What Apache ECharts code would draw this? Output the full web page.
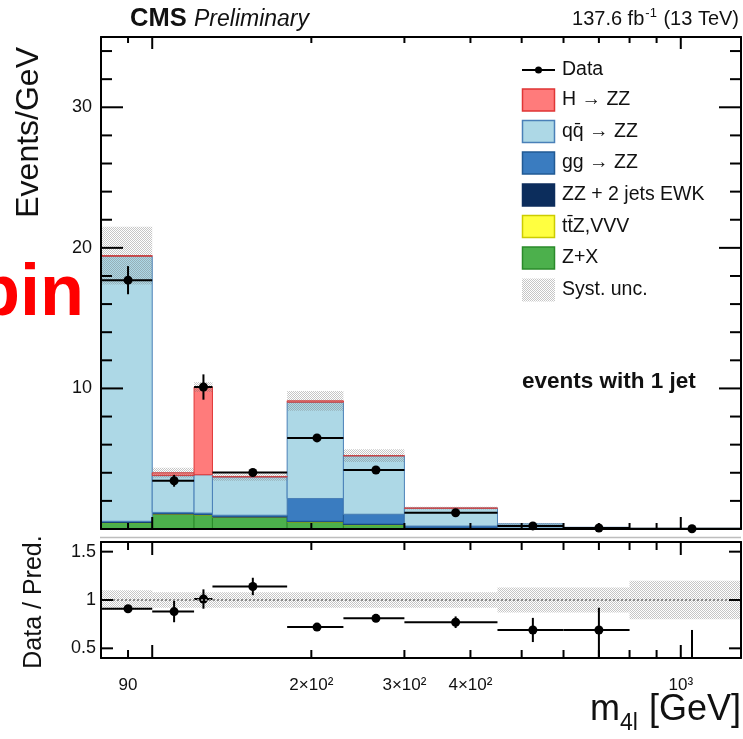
<!DOCTYPE html>
<html><head><meta charset="utf-8">
<script src="https://cdn.jsdelivr.net/npm/echarts@6/dist/echarts.min.js"></script>
<style>html,body{margin:0;padding:0;background:#fff;}#c{width:743px;height:739px;}</style>
</head><body><div id="c"></div>
<script>
// ---------- data ----------
const binEdges   = [80, 100, 120, 130, 180, 230, 300, 450, 600, 800, 1300];
const zxVals     = [0.45, 1.05, 1.00, 0.83, 0.50, 0.30, 0.05, 0.010, 0.005, 0.002];
const ttzVals    = [0.02, 0.02, 0.02, 0.02, 0.02, 0.02, 0.01, 0.005, 0.002, 0.001];
const ewkVals    = [0.03, 0.03, 0.03, 0.03, 0.03, 0.03, 0.02, 0.010, 0.005, 0.002];
const ggVals     = [0.05, 0.08, 0.08, 0.10, 1.62, 0.70, 0.13, 0.040, 0.020, 0.010];
const qqVals     = [18.85, 2.62, 2.73, 2.72, 6.85, 4.15, 1.27, 0.30, 0.09, 0.03];
const hzzVals    = [0.05, 0.20, 6.24, 0.04, 0.10, 0.02, 0.01, 0, 0, 0];
const systVals   = [2.05, 0.35, 0.35, 0.30, 0.70, 0.45, 0.10, 0.04, 0.02, 0.01];
const dataVals   = [17.7, 3.43, 10.1, 4.02, 6.48, 4.20, 1.16, 0.22, 0.07, 0.02];
const dataErr    = [1.0, 0.42, 0.90, 0.22, 0.20, 0.15, 0.10, 0.05, 0.03, 0.02];
const ratioVals  = [0.91, 0.88, 1.01, 1.14, 0.72, 0.81, 0.77, 0.69, 0.69, 0.30];
const ratioErrUp = [0.03, 0.11, 0.10, 0.09, 0.02, 0.025, 0.06, 0.125, 0.23, 0.39];
const ratioErrDn = [0.03, 0.11, 0.10, 0.09, 0.02, 0.025, 0.06, 0.125, 0.35, 0.30];
const ratioBand  = [0.10, 0.08, 0.08, 0.08, 0.08, 0.08, 0.08, 0.13, 0.13, 0.20];
const xTickVals  = [90, 100, 200, 300, 400, 500, 600, 700, 800, 900, 1000];
const xLabelVals = [90, 200, 300, 400, 1000];
const xLabelTexts= ['90', '2×10²', '3×10²', '4×10²', '10³'];
const yTickMajor = [10, 20, 30];
const yTickMinor = [2,4,6,8,12,14,16,18,22,24,26,28,32,34];
const rTickVals  = [0.5, 1, 1.5];
const legendNames= ['Data', 'H → ZZ', 'qq̄ → ZZ', 'gg → ZZ', 'ZZ + 2 jets EWK', 'tt̄Z,VVV', 'Z+X', 'Syst. unc.'];

// ---------- styles ----------
const FF = 'Liberation Sans';
const X_MIN = 80, X_MAX = 1300, Y_MAX = 35, R_MIN = 0.4, R_MAX = 1.6;
const comps = [
  {name:'Z+X',    vals: zxVals,  fill:'#4cb04c', stroke:'#2a8a2a'},
  {name:'ttZ',    vals: ttzVals, fill:'#ffff40', stroke:'#cccc00'},
  {name:'EWK',    vals: ewkVals, fill:'#0c2d5c', stroke:'#0c2d5c'},
  {name:'gg',     vals: ggVals,  fill:'#3a7cc0', stroke:'#215a94'},
  {name:'qq',     vals: qqVals,  fill:'#add8e6', stroke:'#4a80b8'},
  {name:'H',      vals: hzzVals, fill:'#ff7b7b', stroke:'#e03535'}
];
// hatch pattern
const pc = document.createElement('canvas'); pc.width = 4; pc.height = 4;
const pctx = pc.getContext('2d'); pctx.fillStyle = 'rgba(120,120,120,0.42)';
[[0,0],[2,0],[1,1],[3,1],[0,2],[2,2],[1,3],[3,3]].forEach(p => pctx.fillRect(p[0], p[1], 1, 1));
const hatch = {image: pc, repeat: 'repeat'};

const mctx = document.createElement('canvas').getContext('2d');
function tw(str, font){ mctx.font = font; return mctx.measureText(str).width; }
function txt(x, base, str, size, opts){
  opts = opts || {};
  return {type:'text', x:x, y: base - 0.35*size, z:100, silent:true,
    style:{text:str, fontFamily:FF, fontSize:size, fontWeight:opts.bold?'bold':'normal',
      fontStyle:opts.italic?'italic':'normal', fill:opts.color||'#111',
      textAlign:opts.align||'left', textVerticalAlign:'middle'}};
}

// ---------- stacked data tables ----------
const nb = binEdges.length - 1;
const base = new Array(nb).fill(0);
const stackSeries = comps.map(c => {
  const d = [];
  for (let i = 0; i < nb; i++) { d.push([binEdges[i], binEdges[i+1], base[i], base[i] + c.vals[i]]); base[i] += c.vals[i]; }
  return {type:'custom', name:c.name, xAxisIndex:0, yAxisIndex:0, z:2, clip:true,
    encode:{x:[0,1], y:[2,3]}, data:d,
    renderItem:(p, api) => {
      if (api.value(3) - api.value(2) <= 0) return null;
      const a = api.coord([api.value(0), api.value(2)]), b = api.coord([api.value(1), api.value(3)]);
      return {type:'rect', shape:{x:a[0], y:b[1], width:b[0]-a[0], height:a[1]-b[1]},
        style:{fill:c.fill, stroke:c.stroke, lineWidth:1}};
    }};
});
const totals = base.slice();

const bandTop = totals.map((t, i) => [binEdges[i], binEdges[i+1], Math.max(t - systVals[i], 0), t + systVals[i]]);
const bandRatio = ratioBand.map((e, i) => [binEdges[i], binEdges[i+1], 1 - e, 1 + e]);
function bandRender(p, api){
  const a = api.coord([api.value(0), api.value(2)]), b = api.coord([api.value(1), api.value(3)]);
  return {type:'rect', shape:{x:a[0], y:b[1], width:b[0]-a[0], height:a[1]-b[1]}, style:{fill:hatch}};
}
const dataPts = dataVals.map((v, i) => [(binEdges[i] + binEdges[i+1]) / 2, v, v + dataErr[i], Math.max(v - dataErr[i], 0), binEdges[i], binEdges[i+1]]);
const ratioPts = ratioVals.map((v, i) => [(binEdges[i] + binEdges[i+1]) / 2, v, v + ratioErrUp[i], v - ratioErrDn[i], binEdges[i], binEdges[i+1]]);
function ptRender(p, api){
  const xc = api.value(0), v = api.value(1);
  const c = api.coord([xc, v]), l = api.coord([api.value(4), v]), r = api.coord([api.value(5), v]);
  const u = api.coord([xc, api.value(2)]), d = api.coord([xc, api.value(3)]);
  const st = {stroke:'#000', lineWidth:2};
  return {type:'group', children:[
    {type:'line', shape:{x1:l[0], y1:c[1], x2:r[0], y2:c[1]}, style:st},
    {type:'line', shape:{x1:c[0], y1:u[1], x2:c[0], y2:d[1]}, style:st},
    {type:'circle', shape:{cx:c[0], cy:c[1], r:4.5}, style:{fill:'#000'}}
  ]};
}
function xTickSeries(xi, yi, yLo, yHi, majL, minL){
  return {type:'custom', xAxisIndex:xi, yAxisIndex:yi, z:6, clip:false, silent:true,
    data: xTickVals.map(v => [v, yLo]),
    renderItem:(p, api) => {
      const v = api.value(0);
      const L = Math.abs(Math.log10(v) - Math.round(Math.log10(v))) < 1e-9 ? majL : minL;
      const b = api.coord([v, yLo]), t = api.coord([v, yHi]);
      const st = {stroke:'#000', lineWidth:2};
      return {type:'group', children:[
        {type:'line', shape:{x1:b[0], y1:b[1], x2:b[0], y2:b[1]-L}, style:st},
        {type:'line', shape:{x1:t[0], y1:t[1], x2:t[0], y2:t[1]+L}, style:st}]};
    }};
}
function yTickSeries(xi, yi, vals, L){
  return {type:'custom', xAxisIndex:xi, yAxisIndex:yi, z:6, clip:false, silent:true,
    data: vals.map(v => [X_MIN, v]),
    renderItem:(p, api) => {
      const v = api.value(1);
      const a = api.coord([X_MIN, v]), b = api.coord([X_MAX, v]);
      const st = {stroke:'#000', lineWidth:2};
      return {type:'group', children:[
        {type:'line', shape:{x1:a[0], y1:a[1], x2:a[0]+L, y2:a[1]}, style:st},
        {type:'line', shape:{x1:b[0], y1:b[1], x2:b[0]-L, y2:b[1]}, style:st}]};
    }};
}

const axLine = {show:true, onZero:false, lineStyle:{color:'#000', width:2}};
function xAx(g, pos){ return {gridIndex:g, type:'log', logBase:10, min:X_MIN, max:X_MAX, position:pos, z:10,
  axisLine:axLine, axisTick:{show:false}, axisLabel:{show:false}, splitLine:{show:false}}; }
function yAx(g, pos, mn, mx, labels, margin){ return {gridIndex:g, type:'value', min:mn, max:mx, position:pos, z:10,
  axisLine:axLine, axisTick:{show:false}, splitLine:{show:false},
  axisLabel: labels ? {show:true, customValues:labels, fontFamily:FF, fontSize:18, color:'#111', margin:margin} : {show:false}}; }

// ---------- graphic texts / legend ----------
const graphics = [];
graphics.push(txt(130, 28, 'CMS', 25.5, {bold:true}));
graphics.push(txt(194, 28, 'Preliminary', 23, {italic:true}));
(function(){
  const f1 = '20px ' + FF, f2 = '13px ' + FF;
  const p3 = ' (13 TeV)', p2 = '-1', p1 = '137.6 fb';
  let xr = 739;
  const x3 = xr - tw(p3, f1), x2 = x3 - tw(p2, f2) - 1, x1 = x2 - tw(p1, f1) - 1;
  graphics.push(txt(x1, 26, p1, 20)); graphics.push(txt(x2, 18, p2, 13)); graphics.push(txt(x3, 26, p3, 20));
})();
(function(){
  const fA = '36px ' + FF, fB = '23px ' + FF;
  const xr = 741, pC = ' [GeV]';
  const xC = xr - tw(pC, fA), xB = xC - tw('4l', fB) - 1, xA = xB - tw('m', fA);
  graphics.push(txt(xA, 723, 'm', 36)); graphics.push(txt(xB, 732, '4l', 23)); graphics.push(txt(xC, 723, pC, 36));
})();
graphics.push(txt(522, 390, 'events with 1 jet', 22.5, {bold:true}));
graphics.push(txt(84, 320, 'bin', 72, {bold:true, color:'#ff0000', align:'right'}));
graphics.push({type:'text', x:29, y:47, rotation:Math.PI/2, z:100, silent:true,
  style:{text:'Events/GeV', fontFamily:FF, fontSize:32, fill:'#111', textAlign:'right', textVerticalAlign:'middle'}});
graphics.push({type:'text', x:34, y:602, rotation:Math.PI/2, z:100, silent:true,
  style:{text:'Data / Pred.', fontFamily:FF, fontSize:25, fill:'#111', textAlign:'center', textVerticalAlign:'middle'}});
graphics.push({type:'line', z:1, silent:true, shape:{x1:100, y1:537.5, x2:741, y2:537.5}, style:{stroke:'#bdbdbd', lineWidth:1.5}});
// legend
const legRows = [70, 100, 131.5, 163, 195, 226.5, 258, 290];
const legFill = [null, comps[5], comps[4], comps[3], comps[2], comps[1], comps[0], 'hatch'];
legendNames.forEach((nm, i) => {
  const y = legRows[i];
  if (i === 0) {
    graphics.push({type:'line', z:100, shape:{x1:522, y1:y, x2:555, y2:y}, style:{stroke:'#000', lineWidth:2}});
    graphics.push({type:'circle', z:100, shape:{cx:538.5, cy:y, r:3.5}, style:{fill:'#000'}});
  } else if (legFill[i] === 'hatch') {
    graphics.push({type:'rect', z:100, shape:{x:522, y:y-11.5, width:33, height:23}, style:{fill:hatch}});
  } else {
    graphics.push({type:'rect', z:100, shape:{x:522.5, y:y-11, width:32, height:22}, style:{fill:legFill[i].fill, stroke:legFill[i].stroke, lineWidth:1.5}});
  }
  graphics.push({type:'text', x:562, y:y, z:100, silent:true,
    style:{text:nm, fontFamily:FF, fontSize:19.5, fill:'#111', textAlign:'left', textVerticalAlign:'middle'}});
});

// ---------- chart ----------
const chart = echarts.init(document.getElementById('c'), null, {renderer:'canvas'});
chart.setOption({
  animation:false,
  backgroundColor:'#fff',
  grid:[{left:101, top:37, width:640, height:492}, {left:101, top:542, width:640, height:116}],
  xAxis:[xAx(0,'bottom'), xAx(0,'top'), xAx(1,'bottom'), xAx(1,'top')],
  yAxis:[yAx(0,'left',0,Y_MAX,yTickMajor,9), yAx(0,'right',0,Y_MAX,null), yAx(1,'left',R_MIN,R_MAX,rTickVals,5), yAx(1,'right',R_MIN,R_MAX,null)],
  series: stackSeries.concat([
    {type:'custom', name:'Syst. unc.', xAxisIndex:0, yAxisIndex:0, z:3, clip:true, encode:{x:[0,1], y:[2,3]}, data:bandTop, renderItem:bandRender},
    {type:'custom', name:'Data', xAxisIndex:0, yAxisIndex:0, z:4, clip:false, encode:{x:0, y:1}, data:dataPts, renderItem:ptRender},
    {type:'custom', name:'Ratio band', xAxisIndex:2, yAxisIndex:2, z:3, clip:true, encode:{x:[0,1], y:[2,3]}, data:bandRatio, renderItem:bandRender,
      markLine:{silent:true, symbol:'none', label:{show:false}, lineStyle:{color:'#8a8a8a', type:[2,2], width:2}, data:[{yAxis:1}]}},
    {type:'custom', name:'Ratio', xAxisIndex:2, yAxisIndex:2, z:4, clip:true, encode:{x:0, y:1}, data:ratioPts, renderItem:ptRender},
    xTickSeries(0, 0, 0, Y_MAX, 12, 6),
    xTickSeries(2, 2, R_MIN, R_MAX, 13, 8),
    yTickSeries(0, 0, yTickMajor, 22),
    yTickSeries(0, 0, yTickMinor, 11),
    yTickSeries(2, 2, rTickVals, 12),
    {type:'custom', name:'xlabels', xAxisIndex:2, yAxisIndex:2, z:6, clip:false, silent:true,
      data: xLabelVals.map(v => [v, R_MIN]),
      renderItem:(p, api) => {
        const c = api.coord([api.value(0), R_MIN]);
        return {type:'text', x:c[0], y:c[1] + 27, style:{text:xLabelTexts[p.dataIndex], fontFamily:FF, fontSize:17, fill:'#111', textAlign:'center', textVerticalAlign:'middle'}};
      }}
  ]),
  graphic: graphics
});
</script>
</body></html>
